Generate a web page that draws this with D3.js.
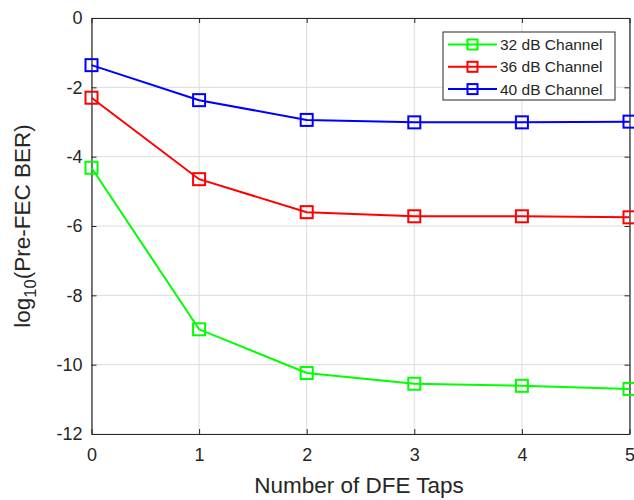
<!DOCTYPE html>
<html>
<head>
<meta charset="utf-8">
<script src="https://cdn.jsdelivr.net/npm/d3@7"></script>
<style>
  body { margin: 0; background: #fff; }
  svg { display: block; font-family: 'Liberation Sans', Arial, sans-serif; }
</style>
</head>
<body>
<div id="myPlot"></div>
<script>
// data
const taps = [0, 1, 2, 3, 4, 5];
const ch32 = [-4.32, -8.98, -10.24, -10.55, -10.61, -10.70];
const ch36 = [-2.30, -4.65, -5.60, -5.72, -5.72, -5.75];
const ch40 = [-1.36, -2.37, -2.94, -3.01, -3.01, -2.99];
const seriesNames = ['32 dB Channel', '36 dB Channel', '40 dB Channel'];
const seriesColors = ['#00ff00', '#ff0000', '#0000ff'];
const yTicks = [0, -2, -4, -6, -8, -10, -12];

const width = 634, height = 500;
const margin = {top: 18, right: 4.5, bottom: 66, left: 91.5};
const w = width - margin.left - margin.right;
const h = height - margin.top - margin.bottom;

const svg = d3.select('#myPlot')
  .append('svg')
    .attr('width', width)
    .attr('height', height);
const g = svg.append('g')
  .attr('transform', 'translate(' + margin.left + ',' + margin.top + ')');

const x = d3.scaleLinear().domain([0, 5]).range([0, w]);
const y = d3.scaleLinear().domain([-12, 0]).range([h, 0]);

// grid
g.append('g')
  .selectAll('line.gx')
  .data(taps)
  .enter().append('line')
    .attr('x1', d => x(d)).attr('x2', d => x(d))
    .attr('y1', 0).attr('y2', h)
    .attr('stroke', '#dcdcdc').attr('stroke-width', 1);
g.append('g')
  .selectAll('line.gy')
  .data(yTicks)
  .enter().append('line')
    .attr('x1', 0).attr('x2', w)
    .attr('y1', d => y(d)).attr('y2', d => y(d))
    .attr('stroke', '#dcdcdc').attr('stroke-width', 1);

// axes (inward ticks, box)
const tickLen = 5;
g.append('g')
  .attr('transform', 'translate(0,' + h + ')')
  .call(d3.axisBottom(x).tickValues(taps).tickFormat(d3.format('d')).tickSizeInner(-tickLen).tickSizeOuter(0).tickPadding(14));
g.append('g')
  .call(d3.axisLeft(y).tickValues(yTicks).tickFormat(d => d === 0 ? '0' : '-' + Math.abs(d)).tickSizeInner(-tickLen).tickSizeOuter(0).tickPadding(9));
g.append('g')
  .call(d3.axisTop(x).tickValues(taps).tickFormat('').tickSizeInner(-tickLen).tickSizeOuter(0));
g.append('g')
  .attr('transform', 'translate(' + w + ',0)')
  .call(d3.axisRight(y).tickValues(yTicks).tickFormat('').tickSizeInner(-tickLen).tickSizeOuter(0));

g.selectAll('.domain').attr('stroke', '#262626').attr('stroke-width', 1.2);
g.selectAll('.tick line').attr('stroke', '#262626');
g.selectAll('.tick text')
  .attr('fill', '#262626')
  .style('font-size', '18px')
  .style('font-family', "'Liberation Sans', Arial, sans-serif");

// lines + markers
const allSeries = [ch32, ch36, ch40];
const line = d3.line()
  .x((d, i) => x(taps[i]))
  .y(d => y(d));
const ms = 12;

allSeries.forEach((vals, si) => {
  g.append('path')
    .datum(vals)
    .attr('d', line)
    .attr('fill', 'none')
    .attr('stroke', seriesColors[si])
    .attr('stroke-width', 2);
  g.selectAll('rect.m' + si)
    .data(vals)
    .enter().append('rect')
      .attr('x', (d, i) => x(taps[i]) - ms / 2)
      .attr('y', d => y(d) - ms / 2)
      .attr('width', ms).attr('height', ms)
      .attr('fill', 'none')
      .attr('stroke', seriesColors[si])
      .attr('stroke-width', 2);
});

// legend
const legend = svg.append('g').attr('transform', 'translate(443,32)');
legend.append('rect')
  .attr('width', 172).attr('height', 68)
  .attr('fill', '#fff')
  .attr('stroke', '#262626').attr('stroke-width', 1);
seriesNames.forEach((name, i) => {
  const ly = 12.5 + i * 22.3;
  legend.append('line')
    .attr('x1', 5).attr('x2', 54)
    .attr('y1', ly).attr('y2', ly)
    .attr('stroke', seriesColors[i]).attr('stroke-width', 2);
  legend.append('rect')
    .attr('x', 29.5 - 5).attr('y', ly - 5)
    .attr('width', 10).attr('height', 10)
    .attr('fill', 'none')
    .attr('stroke', seriesColors[i]).attr('stroke-width', 2);
  legend.append('text')
    .attr('x', 57).attr('y', ly + 5.5)
    .attr('fill', '#262626')
    .style('font-size', '15.5px')
    .text(name);
});

// axis labels
svg.append('text')
  .attr('x', 359)
  .attr('y', 493)
  .attr('text-anchor', 'middle')
  .attr('fill', '#262626')
  .style('font-size', '22.5px')
  .text('Number of DFE Taps');

const yl = svg.append('text')
  .attr('transform', 'translate(30,' + (margin.top + h / 2) + ') rotate(-90)')
  .attr('text-anchor', 'middle')
  .attr('fill', '#262626')
  .style('font-size', '22.5px');
yl.append('tspan').text('log');
yl.append('tspan').attr('dy', 6).style('font-size', '16.5px').text('10');
yl.append('tspan').attr('dy', -6).text('(Pre-FEC BER)');
</script>
</body>
</html>
